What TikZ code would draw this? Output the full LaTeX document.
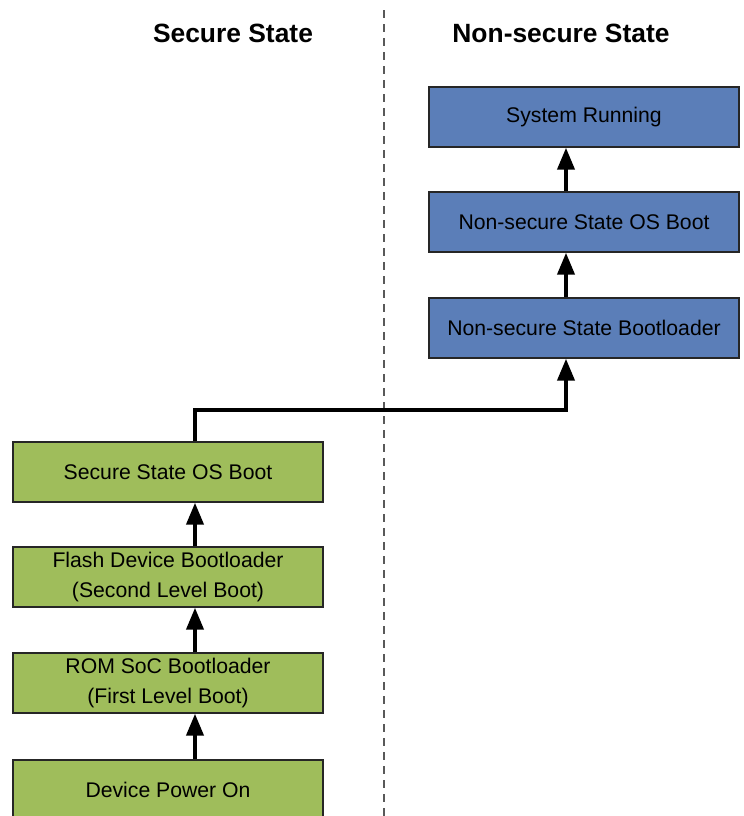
\documentclass[tikz,border=0pt]{standalone}
\usepackage{fontspec}
\setmainfont{Liberation Sans}
\usetikzlibrary{arrows.meta}
\begin{document}
\begin{tikzpicture}[x=0.5pt,y=-0.5pt,line join=miter,
	box/.style={draw=black!85,line width=0.7pt,minimum width=155pt,minimum height=30pt,inner sep=0pt,align=center,font=\fontsize{10.6}{15}\selectfont},
	sbox/.style={box,fill=secgreen},
	nbox/.style={box,fill=nsblue},
	flow/.style={line width=2pt,-{Triangle[length=11pt,width=8.5pt]}},
	head/.style={font=\fontsize{13.2}{16}\selectfont\bfseries}]
	\definecolor{secgreen}{HTML}{9FBD5B}
	\definecolor{nsblue}{HTML}{5B7EB8}
	\clip (0,0) rectangle (744,816);
	\fill[white] (0,0) rectangle (744,816);
	% divider and headings
	\draw[black!65,line width=0.6pt,dash pattern=on 4pt off 3pt] (384,10) -- (384,816);
	\node[head] (sech) at (233,33) {Secure State};
	\node[head] (nsh) at (561,33) {Non-secure State};
	% secure side
	\node[sbox] (dpo) at (168,790) {Device Power On};
	\node[sbox] (rom) at (168,683) {ROM SoC Bootloader\\(First Level Boot)};
	\node[sbox] (fdb) at (168,577) {Flash Device Bootloader\\(Second Level Boot)};
	\node[sbox] (sos) at (168,472) {Secure State OS Boot};
	% non-secure side
	\node[nbox] (nsb) at (584,328) {Non-secure State Bootloader};
	\node[nbox] (nos) at (584,222) {Non-secure State OS Boot};
	\node[nbox] (run) at (584,117) {System Running};
	% arrows
	\coordinate (gx) at (195,0);
	\coordinate (bx) at (566,0);
	\coordinate (turn) at (0,410);
	\draw[flow] (dpo.north -| gx) -- (rom.south -| gx);
	\draw[flow] (rom.north -| gx) -- (fdb.south -| gx);
	\draw[flow] (fdb.north -| gx) -- (sos.south -| gx);
	\draw[flow] (sos.north -| gx) -- (turn -| gx) -- (turn -| bx) -- (nsb.south -| bx);
	\draw[flow] (nsb.north -| bx) -- (nos.south -| bx);
	\draw[flow] (nos.north -| bx) -- (run.south -| bx);
\end{tikzpicture}
\end{document}
